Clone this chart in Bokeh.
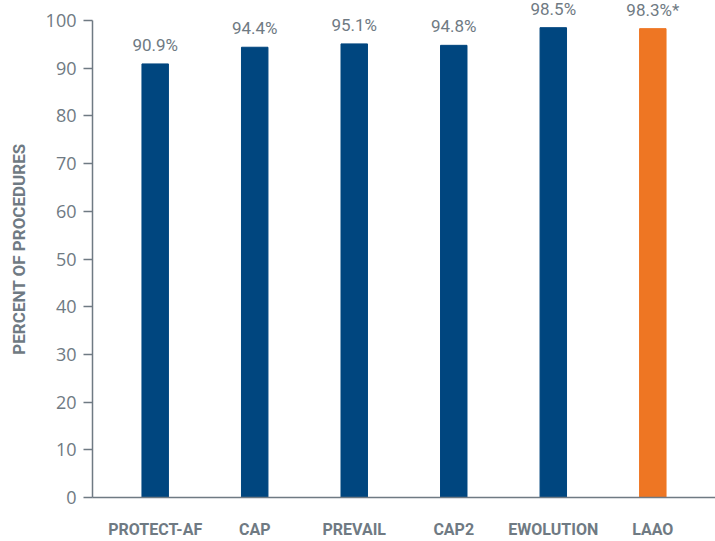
from bokeh.plotting import figure
from bokeh.models import ColumnDataSource, FactorRange, Range1d, FixedTicker
from bokeh.core.properties import value
from bokeh.embed import file_html
from bokeh.resources import INLINE

# Procedural success by study
studies = ["PROTECT-AF", "CAP", "PREVAIL", "CAP2", "EWOLUTION", "LAAO"]
success_pct = [90.9, 94.4, 95.1, 94.8, 98.5, 98.3]
footnote = ["", "", "", "", "", "*"]
bar_colors = ["#00467f", "#00467f", "#00467f", "#00467f", "#00467f", "#ee7623"]
y_ticks = [0, 10, 20, 30, 40, 50, 60, 70, 80, 90, 100]

labels = [f"{v}%{f}" for v, f in zip(success_pct, footnote)]

source = ColumnDataSource(dict(
    study=studies, pct=success_pct, label=labels, color=bar_colors,
))

GRAY = "#6f7a83"
FONT = "Roboto"

p = figure(
    width=715, height=541,
    x_range=FactorRange(factors=studies, range_padding=0.13,
                        range_padding_units="absolute"),
    y_range=Range1d(0, 104.2),
    output_backend="svg", toolbar_location=None,
    min_border_left=92, min_border_right=0,
    min_border_top=0, min_border_bottom=42,
)

p.vbar(x="study", top="pct", width=0.266, color="color", source=source)

p.text(x="study", y="pct", text="label", source=source,
       text_align="center", text_baseline="bottom", y_offset=-9,
       text_font=value(FONT), text_font_size="17px", text_color=GRAY)

p.outline_line_color = None
p.xgrid.grid_line_color = None
p.ygrid.grid_line_color = None

# y axis
p.yaxis.ticker = FixedTicker(ticks=y_ticks)
p.yaxis.bounds = (0, 100)
p.yaxis.axis_line_color = GRAY
p.yaxis.axis_line_width = 1.5
p.yaxis.major_tick_line_color = GRAY
p.yaxis.major_tick_line_width = 1.5
p.yaxis.major_tick_out = 9
p.yaxis.major_tick_in = 0
p.yaxis.minor_tick_line_color = None
p.yaxis.major_label_text_font = "Open Sans"
p.yaxis.major_label_text_font_size = "18px"
p.yaxis.major_label_text_color = GRAY
p.yaxis.major_label_standoff = 7
p.yaxis.axis_label = "PERCENT OF PROCEDURES"
p.yaxis.axis_label_text_font = FONT
p.yaxis.axis_label_text_font_style = "bold"
p.yaxis.axis_label_text_font_size = "17px"
p.yaxis.axis_label_text_color = GRAY
p.yaxis.axis_label_standoff = 14

# x axis
p.xaxis.axis_line_color = GRAY
p.xaxis.axis_line_width = 1.5
p.xaxis.major_tick_line_color = None
p.xaxis.minor_tick_line_color = None
p.xaxis.major_label_text_font = FONT
p.xaxis.major_label_text_font_style = "bold"
p.xaxis.major_label_text_font_size = "16px"
p.xaxis.major_label_text_color = GRAY
p.xaxis.major_label_standoff = 16

open("out.html", "w").write(file_html(p, INLINE))
